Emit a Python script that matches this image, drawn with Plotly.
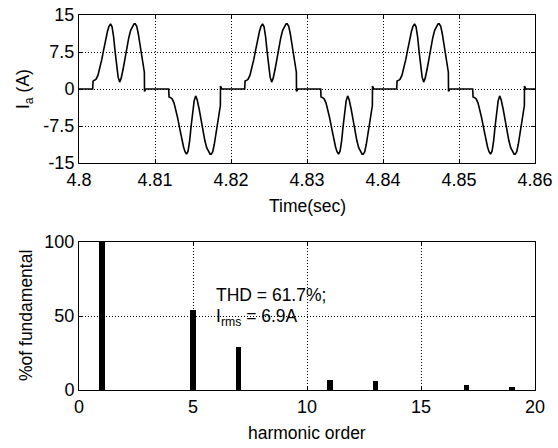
import plotly.graph_objects as go

# ---------------- data ----------------
# phase current i_a, time in ms after t = 4.8 s
t_ms = [
    0, 1.8, 1.85, 2.1, 2.25, 2.5, 2.75, 3.0, 3.25, 3.5, 3.75, 3.95, 4.15, 4.35, 4.55, 4.75, 4.95, 5.15,
    5.35, 5.55, 5.8, 6.05, 6.3, 6.55, 6.8, 7.05, 7.25, 7.4, 7.6, 7.8, 8.0, 8.2, 8.45, 8.6, 8.62, 8.8,
    11.8, 11.85, 12.1, 12.25, 12.5, 12.75, 13.0, 13.25, 13.5, 13.75, 13.95, 14.15, 14.35, 14.55, 14.75, 14.95, 15.15,
    15.35, 15.55, 15.8, 16.05, 16.3, 16.55, 16.8, 17.05, 17.25, 17.4, 17.6, 17.8, 18.0, 18.2, 18.45, 18.6, 18.62, 18.8,
    21.8, 21.85, 22.1, 22.25, 22.5, 22.75, 23.0, 23.25, 23.5, 23.75, 23.95, 24.15, 24.35, 24.55, 24.75, 24.95, 25.15,
    25.35, 25.55, 25.8, 26.05, 26.3, 26.55, 26.8, 27.05, 27.25, 27.4, 27.6, 27.8, 28.0, 28.2, 28.45, 28.6, 28.62, 28.8,
    31.8, 31.85, 32.1, 32.25, 32.5, 32.75, 33.0, 33.25, 33.5, 33.75, 33.95, 34.15, 34.35, 34.55, 34.75, 34.95, 35.15,
    35.35, 35.55, 35.8, 36.05, 36.3, 36.55, 36.8, 37.05, 37.25, 37.4, 37.6, 37.8, 38.0, 38.2, 38.45, 38.6, 38.62, 38.8,
    41.8, 41.85, 42.1, 42.25, 42.5, 42.75, 43.0, 43.25, 43.5, 43.75, 43.95, 44.15, 44.35, 44.55, 44.75, 44.95, 45.15,
    45.35, 45.55, 45.8, 46.05, 46.3, 46.55, 46.8, 47.05, 47.25, 47.4, 47.6, 47.8, 48.0, 48.2, 48.45, 48.6, 48.62, 48.8,
    51.8, 51.85, 52.1, 52.25, 52.5, 52.75, 53.0, 53.25, 53.5, 53.75, 53.95, 54.15, 54.35, 54.55, 54.75, 54.95, 55.15,
    55.35, 55.55, 55.8, 56.05, 56.3, 56.55, 56.8, 57.05, 57.25, 57.4, 57.6, 57.8, 58.0, 58.2, 58.45, 58.6, 58.62, 58.8,
    60.0,
]
i_a = [
    0, 0, 1.6, 1.8, 2.0, 2.8, 4.2, 6.0, 8.0, 10.0, 11.7, 12.7, 13.2, 12.6, 10.6, 7.6, 4.6, 2.4,
    1.4, 2.2, 4.0, 6.2, 8.4, 10.4, 11.9, 12.8, 13.2, 13.2, 12.7, 11.2, 9.0, 6.8, 4.2, 3.4, -0.5, 0,
    0, -1.6, -1.8, -2.0, -2.8, -4.2, -6.0, -8.0, -10.0, -11.7, -12.7, -13.2, -12.6, -10.6, -7.6, -4.6, -2.4,
    -1.4, -2.2, -4.0, -6.2, -8.4, -10.4, -11.9, -12.8, -13.2, -13.2, -12.7, -11.2, -9.0, -6.8, -4.2, -3.4, 0.6, 0,
    0, 1.6, 1.8, 2.0, 2.8, 4.2, 6.0, 8.0, 10.0, 11.7, 12.7, 13.2, 12.6, 10.6, 7.6, 4.6, 2.4,
    1.4, 2.2, 4.0, 6.2, 8.4, 10.4, 11.9, 12.8, 13.2, 13.2, 12.7, 11.2, 9.0, 6.8, 4.2, 3.4, -0.5, 0,
    0, -1.6, -1.8, -2.0, -2.8, -4.2, -6.0, -8.0, -10.0, -11.7, -12.7, -13.2, -12.6, -10.6, -7.6, -4.6, -2.4,
    -1.4, -2.2, -4.0, -6.2, -8.4, -10.4, -11.9, -12.8, -13.2, -13.2, -12.7, -11.2, -9.0, -6.8, -4.2, -3.4, 0.6, 0,
    0, 1.6, 1.8, 2.0, 2.8, 4.2, 6.0, 8.0, 10.0, 11.7, 12.7, 13.2, 12.6, 10.6, 7.6, 4.6, 2.4,
    1.4, 2.2, 4.0, 6.2, 8.4, 10.4, 11.9, 12.8, 13.2, 13.2, 12.7, 11.2, 9.0, 6.8, 4.2, 3.4, -0.5, 0,
    0, -1.6, -1.8, -2.0, -2.8, -4.2, -6.0, -8.0, -10.0, -11.7, -12.7, -13.2, -12.6, -10.6, -7.6, -4.6, -2.4,
    -1.4, -2.2, -4.0, -6.2, -8.4, -10.4, -11.9, -12.8, -13.2, -13.2, -12.7, -11.2, -9.0, -6.8, -4.2, -3.4, 0.6, 0,
    0,
]
t_sec = [4.8 + v / 1000.0 for v in t_ms]

time_ticks = [4.8, 4.81, 4.82, 4.83, 4.84, 4.85, 4.86]
time_labels = ["4.8", "4.81", "4.82", "4.83", "4.84", "4.85", "4.86"]
cur_ticks = [-15, -7.5, 0, 7.5, 15]
cur_labels = ["-15", "-7.5", "0", "7.5", "15"]

# harmonic spectrum (% of fundamental)
harmonic_order = [1, 5, 7, 11, 13, 17, 19]
pct_fundamental = [100, 54, 29, 7, 6, 3.5, 2]
harm_ticks = [0, 5, 10, 15, 20]
pct_ticks = [0, 50, 100]

thd_text = "THD = 61.7%;"
irms_text = "I<sub>rms</sub> = 6.9A"

# ---------------- figure ----------------
FONT = "Liberation Sans, Arial, Helvetica, sans-serif"
W, H = 558, 448
TICK = 18
TXT = 17.5

fig = go.Figure()
fig.add_trace(go.Scatter(x=t_sec, y=i_a, mode="lines",
                         line=dict(color="black", width=1.6),
                         xaxis="x", yaxis="y", showlegend=False))
fig.add_trace(go.Bar(x=harmonic_order, y=pct_fundamental, width=0.24,
                     marker=dict(color="black", line=dict(width=0)),
                     xaxis="x2", yaxis="y2", showlegend=False))

common = dict(showgrid=True, griddash="1px,2px", gridcolor="black", gridwidth=1,
              showline=True, linecolor="black", linewidth=1, mirror="ticks",
              ticks="inside", ticklen=4, tickcolor="black", zeroline=False,
              automargin=False,
              tickfont=dict(family=FONT, size=TICK, color="black"))

xl, xr = 79 / W, 535 / W
fig.update_layout(
    width=W, height=H,
    margin=dict(l=0, r=0, t=0, b=0),
    paper_bgcolor="white", plot_bgcolor="white",
    font=dict(family=FONT, size=TXT, color="black"),
    xaxis=dict(domain=[xl, xr], range=[4.8, 4.86], tickvals=time_ticks, ticktext=time_labels,
               anchor="y", **common),
    yaxis=dict(domain=[(H - 163) / H, (H - 15) / H], range=[-15, 15], tickvals=cur_ticks,
               ticktext=cur_labels, anchor="x", **common),
    xaxis2=dict(domain=[xl, xr], range=[0, 20], tickvals=harm_ticks, anchor="y2", **common),
    yaxis2=dict(domain=[(H - 390) / H, (H - 242) / H], range=[0, 100], tickvals=pct_ticks,
                anchor="x2", **common),
    bargap=0,
)

tfont = dict(family=FONT, size=TXT, color="black")
# axis titles
fig.add_annotation(x=307 / W, y=(H - 206) / H, xref="paper", yref="paper", text="Time(sec)",
                   showarrow=False, xanchor="center", yanchor="middle", font=tfont)
fig.add_annotation(x=307 / W, y=(H - 433) / H, xref="paper", yref="paper", text="harmonic order",
                   showarrow=False, xanchor="center", yanchor="middle", font=tfont)
fig.add_annotation(x=24 / W, y=(H - 89) / H, xref="paper", yref="paper", text="I<sub>a</sub> (A)",
                   showarrow=False, xanchor="center", yanchor="middle", textangle=-90, font=tfont)
fig.add_annotation(x=26 / W, y=(H - 316) / H, xref="paper", yref="paper", text="%of fundamental",
                   showarrow=False, xanchor="center", yanchor="middle", textangle=-90, font=tfont)

# THD text
fig.add_annotation(x=5.9, y=64.0, xref="x2", yref="y2", text=thd_text, showarrow=False,
                   xanchor="left", yanchor="middle", font=tfont)
fig.add_annotation(x=5.9, y=49.0, xref="x2", yref="y2", text=irms_text, showarrow=False,
                   xanchor="left", yanchor="middle", font=tfont)

fig.write_html("out.html")
